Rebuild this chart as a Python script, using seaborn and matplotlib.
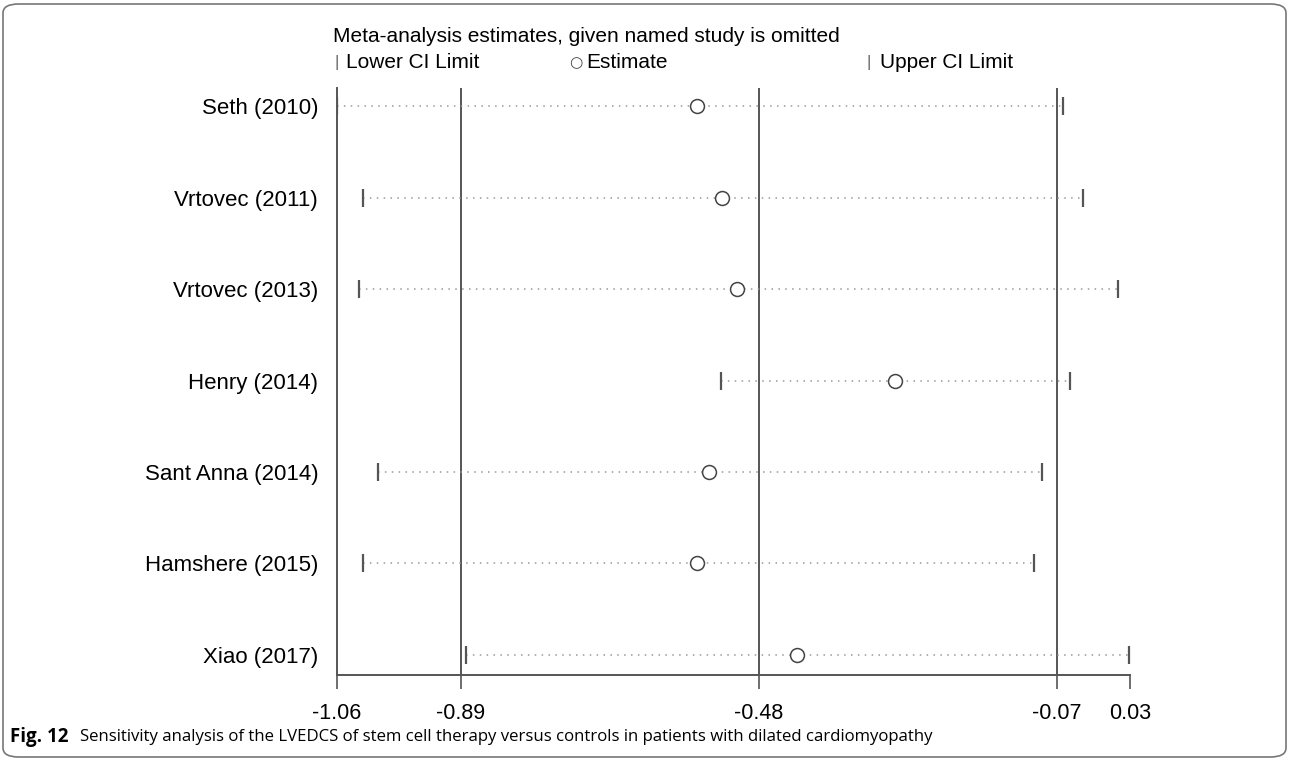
import matplotlib
matplotlib.use("Agg")
import matplotlib.pyplot as plt
import seaborn as sns
import pandas as pd
from matplotlib.patches import FancyBboxPatch

studies = ['Seth (2010)', 'Vrtovec (2011)', 'Vrtovec (2013)', 'Henry (2014)',
           'Sant Anna (2014)', 'Hamshere (2015)', 'Xiao (2017)']
estimate = [-0.565, -0.531, -0.510, -0.293, -0.549, -0.565, -0.428]
lower_ci = [-1.060, -1.024, -1.030, -0.532, -1.004, -1.024, -0.883]
upper_ci = [-0.062, -0.035, 0.014, -0.052, -0.091, -0.102, 0.029]
ref_lines = [-0.89, -0.48, -0.07]
x_ticks = [-1.06, -0.89, -0.48, -0.07, 0.03]

df = pd.DataFrame({'study': studies, 'est': estimate, 'lo': lower_ci, 'hi': upper_ci})
df['row'] = range(len(df))

sns.set_style('white')
plt.rcParams['font.family'] = ['Liberation Sans', 'DejaVu Sans']
plt.rcParams['text.color'] = 'black'
plt.rcParams['xtick.color'] = 'black'
plt.rcParams['ytick.color'] = 'black'

fig = plt.figure(figsize=(12.9, 7.61), dpi=100)
ax = fig.add_axes([0.2612, 0.113, 0.6147, 0.7714])

dark = '#555555'

for xv in ref_lines:
    ax.axvline(xv, color=dark, lw=1.4, zorder=1)

ax.hlines(df['row'], df['lo'], df['hi'], colors='#999999', linestyles=(0, (1, 3.5)), lw=1.1, zorder=2)
sns.scatterplot(data=df, x='lo', y='row', marker='|', s=160, color=dark, linewidth=1.6, ax=ax, zorder=3)
sns.scatterplot(data=df, x='hi', y='row', marker='|', s=160, color=dark, linewidth=1.6, ax=ax, zorder=3)
sns.scatterplot(data=df, x='est', y='row', marker='o', s=100, facecolor='white',
                edgecolor='#444444', linewidth=1.1, ax=ax, zorder=4)

ax.set_xlim(-1.06, 0.03)
ax.set_ylim(6.22, -0.2)
ax.set_xticks(x_ticks)
ax.set_xticklabels([f'{v:.2f}' for v in x_ticks], fontsize=15.5)
ax.set_yticks(df['row'])
ax.set_yticklabels(studies, fontsize=16)
ax.tick_params(axis='y', length=0, pad=13.5)
ax.tick_params(axis='x', length=10, width=1.2, color=dark, pad=10, direction='out', bottom=True)
ax.set_xlabel('')
ax.set_ylabel('')
for side in ['top', 'right']:
    ax.spines[side].set_visible(False)
for side in ['bottom', 'left']:
    ax.spines[side].set_color(dark)
    ax.spines[side].set_linewidth(1.4)

# legend block
fig.text(333 / 1290, 1 - 37 / 761, 'Meta-analysis estimates, given named study is omitted',
         fontsize=15, va='center', ha='left')
fig.text(334 / 1290, 1 - 63 / 761, '|', fontsize=12, va='center', ha='left', color='#666666')
fig.text(346 / 1290, 1 - 63 / 761, 'Lower CI Limit', fontsize=15, va='center', ha='left')
fig.text(569 / 1290, 1 - 63 / 761, '○', fontsize=11, va='center', ha='left',
         family=['DejaVu Sans'], color='#444444')
fig.text(586 / 1290, 1 - 63 / 761, 'Estimate', fontsize=15, va='center', ha='left')
fig.text(867 / 1290, 1 - 63 / 761, '|', fontsize=12, va='center', ha='left', color='#666666')
fig.text(880 / 1290, 1 - 63 / 761, 'Upper CI Limit', fontsize=15, va='center', ha='left')

# caption
fig.text(10 / 1290, 1 - 737 / 761, 'Fig. 12', fontsize=13.5, fontweight='bold',
         family=['Open Sans', 'DejaVu Sans'], va='center', ha='left')
fig.text(80 / 1290, 1 - 737 / 761,
         'Sensitivity analysis of the LVEDCS of stem cell therapy versus controls in patients with dilated cardiomyopathy',
         fontsize=12.1, family=['Open Sans', 'DejaVu Sans'], va='center', ha='left')

border = FancyBboxPatch((3 / 1290, 4 / 761), 1283 / 1290, 753 / 761,
                        boxstyle='round,pad=0,rounding_size=0.012',
                        transform=fig.transFigure, fill=False, edgecolor='#777777', lw=1.2)
fig.patches.append(border)

fig.savefig('out.png', dpi=100)
